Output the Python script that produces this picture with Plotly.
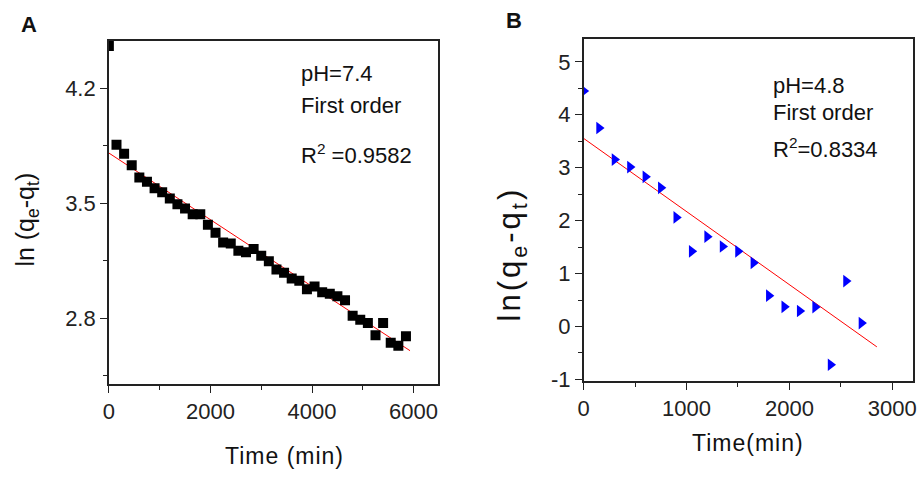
import plotly.graph_objects as go

# ---------------- Panel A data (pH 7.4) ----------------
time_a = [i * 150 for i in range(40)]
lnq_a = [4.46, 3.857, 3.803, 3.733, 3.658, 3.632, 3.592, 3.568, 3.529, 3.495,
         3.469, 3.434, 3.434, 3.370, 3.320, 3.261, 3.255, 3.211, 3.201, 3.221,
         3.181, 3.147, 3.096, 3.076, 3.042, 3.028, 2.976, 2.992, 2.957, 2.948,
         2.933, 2.909, 2.814, 2.790, 2.770, 2.695, 2.770, 2.650, 2.631, 2.689]
fit_a_x = [0, 5930]
fit_a_y = [3.807, 2.601]

# ---------------- Panel B data (pH 4.8) ----------------
time_b = [0, 150, 300, 450, 600, 750, 900, 1050, 1200, 1350, 1500, 1650,
          1800, 1950, 2100, 2250, 2400, 2550, 2700]
lnq_b = [4.45, 3.75, 3.154, 3.012, 2.827, 2.619, 2.06, 1.419, 1.696, 1.511,
         1.419, 1.203, 0.581, 0.372, 0.292, 0.366, -0.723, 0.857, 0.064]
fit_b_x = [0, 2850]
fit_b_y = [3.553, -0.385]

ytick_b_vals = [-1, 0, 1, 2, 3, 4, 5]
ytick_b_text = ["-1", "0", "1", "2", "3", "4", "5"]

W, H = 921, 479
FONT = "Liberation Sans, Arial, sans-serif"

def px(x):
    return x / W

def py(y):
    return 1 - y / H

fig = go.Figure()

fig.add_trace(go.Scatter(x=fit_a_x, y=fit_a_y, mode="lines",
                         line=dict(color="red", width=1), xaxis="x", yaxis="y",
                         showlegend=False))
fig.add_trace(go.Scatter(x=time_a, y=lnq_a, mode="markers",
                         marker=dict(symbol="square", size=10, color="black"),
                         xaxis="x", yaxis="y", showlegend=False))
fig.add_trace(go.Scatter(x=fit_b_x, y=fit_b_y, mode="lines",
                         line=dict(color="red", width=1), xaxis="x2", yaxis="y2",
                         showlegend=False))
fig.add_trace(go.Scatter(x=time_b, y=lnq_b, mode="markers",
                         marker=dict(symbol="triangle-right", size=11, color="#0000ff"),
                         xaxis="x2", yaxis="y2", showlegend=False))

axis_common = dict(showgrid=False, zeroline=False, showline=True, mirror=True,
                   linecolor="#222", linewidth=1.5, ticks="outside", ticklen=7,
                   tickwidth=1.2, tickcolor="#222",
                   tickfont=dict(family=FONT, size=22, color="#222"))

fig.update_layout(
    width=W, height=H,
    margin=dict(l=0, r=0, t=0, b=0),
    paper_bgcolor="white", plot_bgcolor="white",
    xaxis=dict(**axis_common, domain=[px(104), px(436.7)], range=[0, 6480],
               dtick=2000, tick0=0, anchor="y",
               minor=dict(ticks="outside", ticklen=4, dtick=1000, tickcolor="#222")),
    yaxis=dict(**axis_common, domain=[py(393), py(41.7)], range=[2.398, 4.492],
               dtick=0.7, tick0=0, anchor="x",
               minor=dict(ticks="outside", ticklen=4, dtick=0.35, tickcolor="#222")),
    xaxis2=dict(**axis_common, domain=[px(584), px(916.7)], range=[0, 3199],
                dtick=1000, tick0=0, anchor="y2",
                minor=dict(ticks="outside", ticklen=4, dtick=500, tickcolor="#222")),
    yaxis2=dict(**axis_common, domain=[py(390), py(40)], range=[-1.031, 5.43],
                tickmode="array", tickvals=ytick_b_vals, ticktext=ytick_b_text,
                anchor="x2",
                minor=dict(ticks="outside", ticklen=4, dtick=0.5, tick0=0,
                           tickcolor="#222")),
)

def ann(text, x, y, size=20, xanchor="left", bold=False, angle=0):
    if bold:
        text = "<b>" + text + "</b>"
    fig.add_annotation(text=text, x=px(x), y=py(y), xref="paper", yref="paper",
                       showarrow=False, xanchor=xanchor, yanchor="middle",
                       textangle=angle,
                       font=dict(family=FONT, size=size, color="#111"))

# panel letters
ann("A", 23, 25, size=22, xanchor="center", bold=True)
ann("B", 514, 21, size=22, xanchor="center", bold=True)

# axis titles
ann("<span style='letter-spacing:1px'>Time (min)</span>", 282, 467, size=23,
    xanchor="center")
ann("<span style='letter-spacing:1px'>Time(min)</span>", 750, 453, size=23,
    xanchor="center")
ann("ln (q<sub>e</sub>-q<sub>t</sub>)", 21, 225, size=25, xanchor="center", angle=-90)
ann("<span style='letter-spacing:3px'>ln(q<sub>e</sub>-q<sub>t</sub>)</span>",
    512, 260, size=31, xanchor="center", angle=-90)

# panel A texts
ann("pH=7.4", 296, 75, size=22)
ann("First order", 296, 108, size=22)
ann("R<sup>2</sup> =0.9582", 296, 158, size=22)

# panel B texts
ann("pH=4.8", 773, 87, size=22)
ann("First order", 773, 115, size=22)
ann("R<sup>2</sup>=0.8334", 773, 151, size=22)

fig.write_html("out.html")
